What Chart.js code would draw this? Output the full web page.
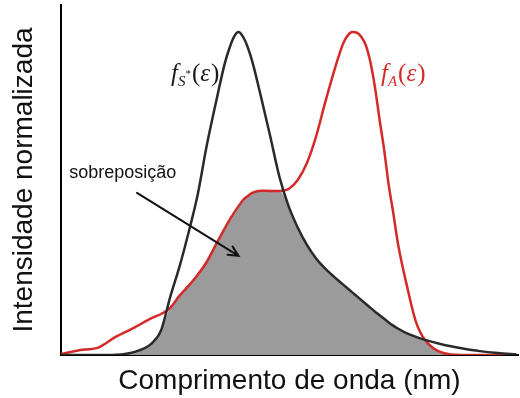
<!DOCTYPE html>
<html>
<head>
<meta charset="utf-8">
<script src="https://cdn.jsdelivr.net/npm/chart.js@4.4.1/dist/chart.umd.min.js"></script>
<style>
    html, body { margin: 0; padding: 0; background: #fff; }
    #box { width: 520px; height: 398px; }
</style>
</head>
<body>
<div id="box"><canvas id="overlapChart"></canvas></div>
<script>
/****************************** Data ********************************/
// wavelength in arbitrary units (axis has no ticks)
const wavelength = [0, 4, 8, 12, 16, 20, 22, 24, 26, 28, 30, 32, 34, 36, 37, 38, 39, 40, 41, 42,
    44, 46, 48, 50, 52, 54, 56, 58, 60, 61, 62, 63, 64, 65, 66, 67, 68, 69, 70, 71,
    72, 73, 74, 76, 78, 80, 84, 88, 92, 96, 100];

// emission of the donor, f_S*(e)
const donorEmission = [0, 0, 0, 0.001, 0.009, 0.037, 0.077, 0.18, 0.272, 0.378, 0.495, 0.647, 0.78, 0.904, 0.95, 0.985, 1.0, 0.985, 0.954, 0.91,
    0.796, 0.675, 0.551, 0.461, 0.395, 0.342, 0.3, 0.268, 0.242, 0.23, 0.218, 0.206, 0.194, 0.182, 0.17, 0.158, 0.146, 0.134, 0.123, 0.112,
    0.101, 0.091, 0.082, 0.067, 0.056, 0.047, 0.032, 0.021, 0.012, 0.006, 0.002];

// absorption of the acceptor, f_A(e)
const acceptorAbsorption = [0.003, 0.015, 0.022, 0.056, 0.084, 0.115, 0.127, 0.146, 0.183, 0.214, 0.248, 0.288, 0.341, 0.393, 0.418, 0.44, 0.461, 0.48, 0.492, 0.502,
    0.509, 0.508, 0.508, 0.514, 0.542, 0.594, 0.675, 0.78, 0.879, 0.925, 0.965, 0.99, 1.0, 0.998, 0.985, 0.958, 0.905, 0.827, 0.728, 0.635,
    0.526, 0.44, 0.347, 0.214, 0.102, 0.046, 0.006, 0, 0, 0, 0];

// overlap region = the lower of the two curves
const overlap = wavelength.map((w, i) => Math.min(donorEmission[i], acceptorAbsorption[i]));

const xTitle = 'Comprimento de onda (nm)';
const yTitle = 'Intensidade normalizada';
const overlapLabel = 'sobreposição';

const toPoints = (arr) => arr.map((v, i) => ({ x: wavelength[i], y: v }));

/****************************** Labels and arrow ********************************/
// draws text made of pieces (different fonts / vertical shifts) one after another
function drawPieces(ctx, pieces, x, y, color, alignRight) {
    ctx.save();
    ctx.fillStyle = color;
    ctx.textBaseline = 'alphabetic';
    ctx.textAlign = 'left';
    let total = 0;
    pieces.forEach(p => { ctx.font = p.font; total += ctx.measureText(p.text).width + (p.gap || 0); });
    let cx = alignRight ? x - total : x;
    pieces.forEach(p => {
        ctx.font = p.font;
        ctx.fillText(p.text, cx, y + (p.dy || 0));
        cx += ctx.measureText(p.text).width + (p.gap || 0);
    });
    ctx.restore();
}

const serif = '"Liberation Serif", "DejaVu Serif", serif';

const annotations = {
    id: 'annotations',
    afterDatasetsDraw(chart) {
        const { ctx, scales: { x, y } } = chart;

        // "sobreposição" and its arrow
        ctx.save();
        ctx.fillStyle = '#111';
        ctx.font = '18px "Liberation Sans", Arial, sans-serif';
        ctx.textBaseline = 'alphabetic';
        ctx.fillText(overlapLabel, x.getPixelForValue(1.8), y.getPixelForValue(0.548));

        const x0 = x.getPixelForValue(16.7), y0 = y.getPixelForValue(0.502);
        const x1 = x.getPixelForValue(39.0), y1 = y.getPixelForValue(0.307);
        const ang = Math.atan2(y1 - y0, x1 - x0);
        const head = 11;
        ctx.strokeStyle = '#111';
        ctx.lineWidth = 2;
        ctx.lineCap = 'round';
        ctx.beginPath();
        ctx.moveTo(x0, y0);
        ctx.lineTo(x1, y1);
        ctx.moveTo(x1 - head * Math.cos(ang - 0.45), y1 - head * Math.sin(ang - 0.45));
        ctx.lineTo(x1, y1);
        ctx.lineTo(x1 - head * Math.cos(ang + 0.45), y1 - head * Math.sin(ang + 0.45));
        ctx.stroke();
        ctx.restore();

        // curve names
        drawPieces(ctx, [
            { text: 'f', font: 'italic 25px ' + serif, gap: 0 },
            { text: 'S', font: 'italic 15px ' + serif, dy: 5 },
            { text: '*', font: '11px ' + serif, dy: -4, gap: 1 },
            { text: '(', font: '25px ' + serif },
            { text: 'ε', font: 'italic 25px ' + serif, gap: 1 },
            { text: ')', font: '25px ' + serif }
        ], x.getPixelForValue(34.8), y.getPixelForValue(0.848), '#1a1a1a', true);

        drawPieces(ctx, [
            { text: 'f', font: 'italic 25px ' + serif, gap: 0 },
            { text: 'A', font: 'italic 15px ' + serif, dy: 5, gap: 1 },
            { text: '(', font: '25px ' + serif },
            { text: 'ε', font: 'italic 25px ' + serif, gap: 1 },
            { text: ')', font: '25px ' + serif }
        ], x.getPixelForValue(70.3), y.getPixelForValue(0.848), '#d42a2a', false);
    }
};

/****************************** Chart ********************************/
const titleFont = { family: '"Liberation Sans", Arial, sans-serif', size: 28, lineHeight: 1 };

new Chart(document.getElementById('overlapChart'), {
    type: 'line',
    data: {
        datasets: [
            {
                label: 'f_S*',
                data: toPoints(donorEmission),
                borderColor: '#2a2a2a',
                borderWidth: 2.5,
                pointRadius: 0,
                cubicInterpolationMode: 'monotone',
                fill: false
            },
            {
                label: 'f_A',
                data: toPoints(acceptorAbsorption),
                borderColor: '#d42a2a',
                borderWidth: 2.5,
                pointRadius: 0,
                cubicInterpolationMode: 'monotone',
                fill: false
            },
            {
                label: 'overlap',
                data: toPoints(overlap),
                borderWidth: 0,
                borderColor: 'rgba(0,0,0,0)',
                backgroundColor: '#9b9b9b',
                pointRadius: 0,
                cubicInterpolationMode: 'monotone',
                fill: 'origin'
            }
        ]
    },
    options: {
        responsive: true,
        maintainAspectRatio: false,
        animation: false,
        layout: { padding: { top: 5, right: 2, left: 0, bottom: 0 } },
        plugins: {
            legend: { display: false },
            tooltip: { enabled: false }
        },
        scales: {
            x: {
                type: 'linear',
                min: 0,
                max: 100.4,
                grid: { display: false },
                border: { color: '#000', width: 2 },
                ticks: { display: false },
                title: { display: true, text: xTitle, color: '#111', font: titleFont, padding: { top: 0, bottom: 3 } },
                afterFit: (scale) => { scale.height = 43; }
            },
            y: {
                min: 0,
                max: 1.084,
                grid: { display: false },
                border: { color: '#000', width: 2 },
                ticks: { display: false },
                title: { display: true, text: yTitle, color: '#111', font: titleFont, padding: { top: 10, bottom: 0 } },
                afterFit: (scale) => { scale.width = 61; }
            }
        }
    },
    plugins: [annotations]
});
</script>
</body>
</html>
